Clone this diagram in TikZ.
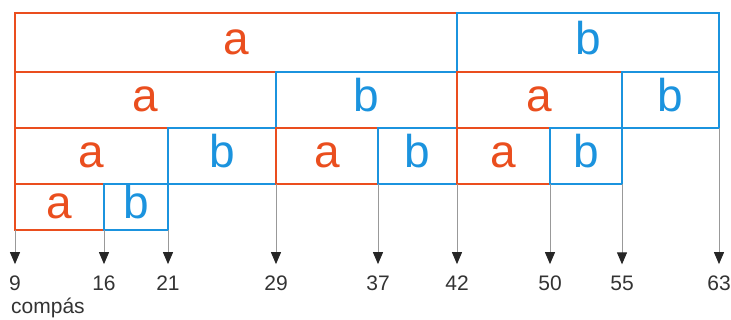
\documentclass[tikz,border=0pt]{standalone}
\usepackage{fontspec}
\setmainfont{Liberation Sans}
\usetikzlibrary{arrows.meta}

\definecolor{rojo}{RGB}{234,78,30}
\definecolor{azul}{RGB}{27,147,222}

\tikzset{
  seg/.style={rectangle, line width=2.6pt, inner sep=0pt, outer sep=0pt,
    font=\fontsize{46}{46}\selectfont, text height=24pt, text depth=0pt},
  abox/.style={draw=rojo, text=rojo},
  bbox/.style={draw=azul, text=azul},
  tick/.style={draw=black!40, line width=1pt, shorten >=12pt,
    -{Triangle[length=12pt,width=10pt,color=black!85]}},
  num/.style={font=\fontsize{21}{21}\selectfont, text=black!80, anchor=base, inner sep=0pt}
}

% #1 letter, #2 name, #3 left, #4 right, #5 top, #6 bottom
\newcommand{\segbox}[6]{%
  \node[seg, #1box, minimum width={(#4-#3)*1pt}, minimum height={(#6-#5)*1pt}]
    (#2) at ({(#3+#4)/2},{(#5+#6)/2}) {#1};}

\begin{document}
\begin{tikzpicture}[x=1pt,y=-1pt]

    \useasboundingbox (0,0) rectangle (731,320);

    % row 1
    \segbox{a}{a11}{15}{457}{13}{72}
    \segbox{b}{b11}{457}{719}{13}{72}

    % row 2
    \segbox{a}{a21}{15}{276}{72}{128}
    \segbox{b}{b21}{276}{457}{72}{128}
    \segbox{a}{a22}{457}{622}{72}{128}
    \segbox{b}{b22}{622}{719}{72}{128}

    % row 3
    \segbox{a}{a31}{15}{168}{128}{184}
    \segbox{b}{b31}{168}{276}{128}{184}
    \segbox{a}{a32}{276}{378}{128}{184}
    \segbox{b}{b32}{378}{457}{128}{184}
    \segbox{a}{a33}{457}{550}{128}{184}
    \segbox{b}{b33}{550}{622}{128}{184}

    % row 4
    \segbox{a}{a41}{15}{104}{184}{230}
    \segbox{b}{b41}{104}{168}{184}{230}

    % measure numbers
    \node[num] (n9) at (15,291) {9};
    \node[num] (n16) at (104,291) {16};
    \node[num] (n21) at (168,291) {21};
    \node[num] (n29) at (276,291) {29};
    \node[num] (n37) at (378,291) {37};
    \node[num] (n42) at (457,291) {42};
    \node[num] (n50) at (550,291) {50};
    \node[num] (n55) at (622,291) {55};
    \node[num] (n63) at (719,291) {63};
    \node[num, anchor=base west] (compas) at (11,314) {compás};

    % arrows
    \draw[tick] (a41.south west) -- (n9.north);
    \draw[tick] (a41.south east) -- (n16.north);
    \draw[tick] (b41.south east) -- (n21.north);
    \draw[tick] (a32.south west) -- (n29.north);
    \draw[tick] (b32.south west) -- (n37.north);
    \draw[tick] (a33.south west) -- (n42.north);
    \draw[tick] (b33.south west) -- (n50.north);
    \draw[tick] (b33.south east) -- (n55.north);
    \draw[tick] (b22.south east) -- (n63.north);

\end{tikzpicture}
\end{document}
